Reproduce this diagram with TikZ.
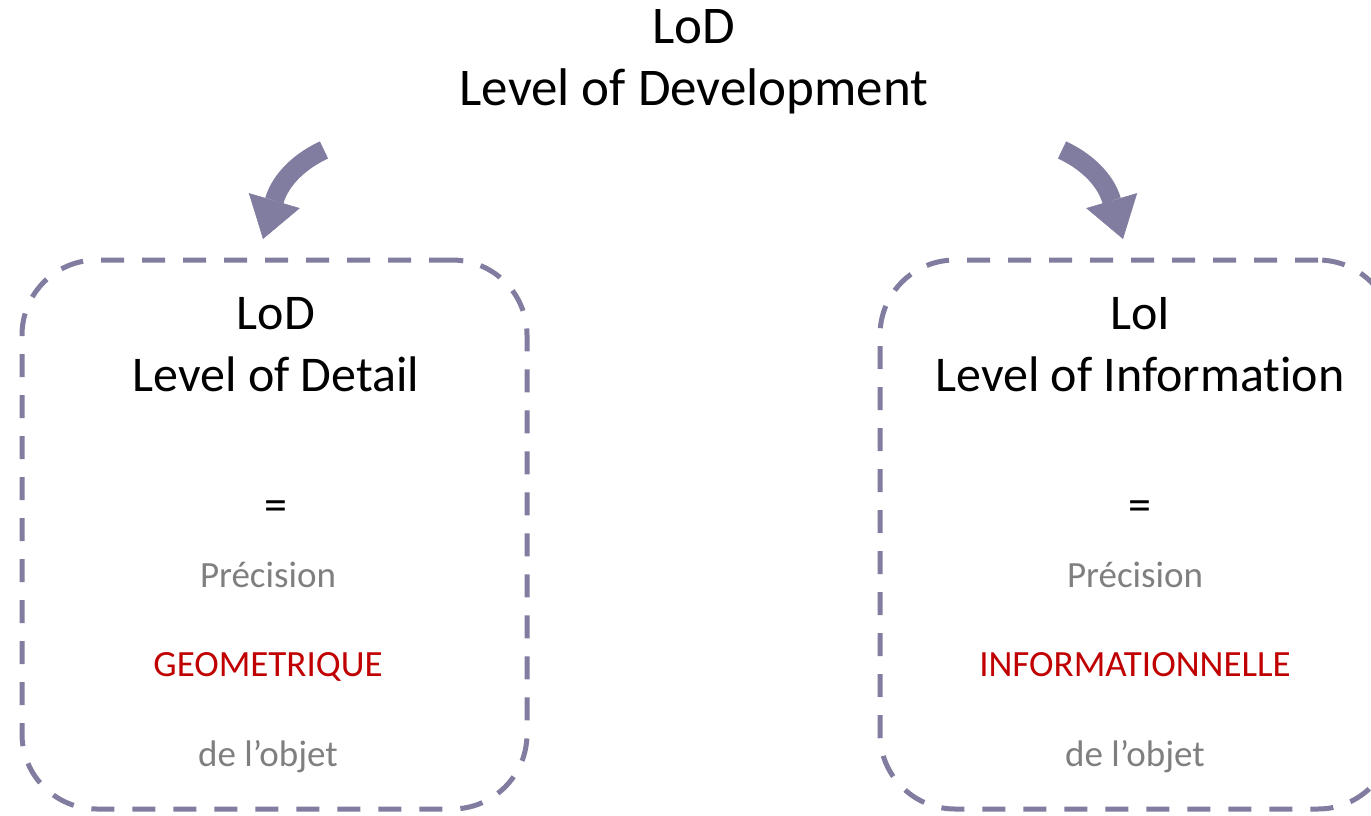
\documentclass[tikz,border=0pt]{standalone}
\usepackage{fontspec}
\setmainfont{Carlito}[Ligatures=NoCommon]
\usetikzlibrary{arrows.meta, positioning, calc}
\definecolor{framecol}{RGB}{128,125,160}
\definecolor{subgrey}{RGB}{127,127,127}
\definecolor{keyred}{RGB}{192,0,0}
\tikzset{
  headtxt/.style = {anchor=base, inner sep=0pt,
                    font=\fontsize{53}{57}\selectfont},
  boxtxt/.style  = {anchor=base, inner sep=0pt,
                    font=\fontsize{50}{55}\selectfont},
  eqtxt/.style   = {anchor=base, inner sep=0pt,
                    font=\fontsize{46}{50}\selectfont},
  subtxt/.style  = {anchor=base, inner sep=0pt, text=subgrey,
                    font=\fontsize{37}{40}\selectfont},
  keytxt/.style  = {anchor=base, inner sep=0pt, text=keyred,
                    font=\fontsize{37}{40}\selectfont},
  lodbox/.style  = {draw=framecol, line width=5pt, rectangle,
                    dash pattern=on 23pt off 18pt,
                    rounded corners=75pt, inner sep=0pt,
                    minimum height=549pt},
  bigarrow/.style = {draw=framecol, line width=19pt,
                     -{Triangle[length=40pt, width=53pt, line width=0.5pt]}}
}

\begin{document}
\begin{tikzpicture}[x=1pt, y=-1pt]

  \useasboundingbox (0,0) rectangle (1371,816);

  %%──────────────────────────────────────────────────────────────────────────
  %%  HEADING
  %%──────────────────────────────────────────────────────────────────────────
  \node[headtxt] (devA) at (694,44)  {LoD};
  \node[headtxt] (devB) at (694,105) {Level of Development};

  %%──────────────────────────────────────────────────────────────────────────
  %%  DASHED FRAMES
  %%──────────────────────────────────────────────────────────────────────────
  \node[lodbox, minimum width=505pt] (detail) at (274.5,534.5) {};
  \node[lodbox, minimum width=513pt] (info)   at (1136.5,534.5) {};

  %%──────────────────────────────────────────────────────────────────────────
  %%  LEFT FRAME : LEVEL OF DETAIL
  %%──────────────────────────────────────────────────────────────────────────
  \node[boxtxt] (detA)  at (276,329) {LoD};
  \node[boxtxt] (detB)  at (276,391) {Level of Detail};
  \node[eqtxt]  (detEq) at (276,520) {=};
  \node[subtxt] (detC)  at (268,587) {Précision};
  \node[keytxt] (detD)  at (268,676) {GEOMETRIQUE};
  \node[subtxt] (detE)  at (268,766) {de l’objet};

  %%──────────────────────────────────────────────────────────────────────────
  %%  RIGHT FRAME : LEVEL OF INFORMATION
  %%──────────────────────────────────────────────────────────────────────────
  \node[boxtxt] (infA)  at (1140,329) {LoI};
  \node[boxtxt] (infB)  at (1140,391) {Level of Information};
  \node[eqtxt]  (infEq) at (1140,520) {=};
  \node[subtxt] (infC)  at (1135,587) {Précision};
  \node[keytxt] (infD)  at (1135,676) {INFORMATIONNELLE};
  \node[subtxt] (infE)  at (1135,766) {de l’objet};

  %%──────────────────────────────────────────────────────────────────────────
  %%  CURVED ARROWS
  %%──────────────────────────────────────────────────────────────────────────
  \coordinate (tailL) at (324,150);
  \coordinate (tipL)  at (263,239);
  \coordinate (tailR) at (1062,150);
  \coordinate (tipR)  at (1123,239);

  \draw[bigarrow] (tailL) .. controls (302,160) and (281,178) .. (tipL);
  \draw[bigarrow] (tailR) .. controls (1084,160) and (1105,178) .. (tipR);

\end{tikzpicture}
\end{document}
